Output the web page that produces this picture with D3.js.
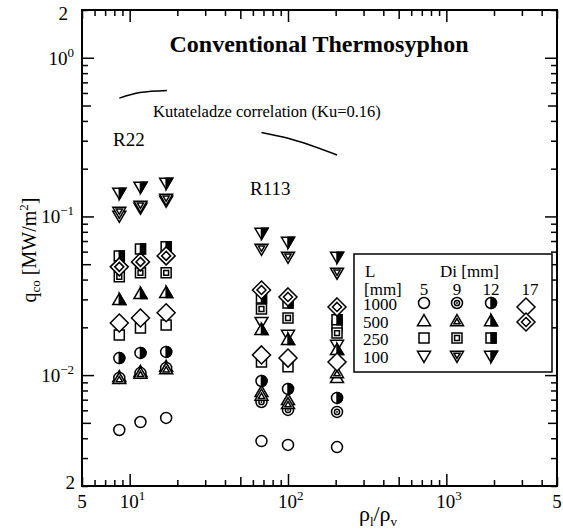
<!DOCTYPE html>
<html>
<head>
<meta charset="utf-8">
<script src="https://cdn.jsdelivr.net/npm/d3@7"></script>
<style>
  body { margin: 0; background: #fff; }
  svg { display: block; }
</style>
</head>
<body>
<script>
// Density ratio rho_l/rho_v for each measured condition: three R22 points, then three R113 points
const densityRatio = [8.6, 11.7, 17.0, 68, 100, 204];

// Critical heat flux q_co [MW/m2], one array per tube diameter Di [mm] and length L [mm]
const d5_L1000  = [0.00451, 0.00506, 0.00537, 0.00384, 0.00363, 0.00352];
const d5_L500   = [0.00973, 0.0105, 0.0113, 0.00783, 0.00697, 0.00959];
const d5_L250   = [0.0179, 0.0198, 0.0207, 0.0121, 0.0113, 0.0204];
const d5_L100   = [0.1008, 0.1132, 0.1253, 0.0216, 0.0179, 0.0155];
const d9_L1000  = [0.00959, 0.0103, 0.0111, 0.00677, 0.00603, 0.00586];
const d9_L500   = [0.00946, 0.0102, 0.0109, 0.00743, 0.00658, 0.0103];
const d9_L250   = [0.0416, 0.0441, 0.0441, 0.0261, 0.0229, 0.0184];
const d9_L100   = [0.1068, 0.1166, 0.1290, 0.0624, 0.0556, 0.0441];
const d12_L1000 = [0.0128, 0.0138, 0.0140, 0.00918, 0.00818, 0.00718];
const d12_L500  = [0.0298, 0.0325, 0.0330, 0.0193, 0.0167, 0.0144];
const d12_L250  = [0.0564, 0.0624, 0.0643, 0.0306, 0.0285, 0.0223];
const d12_L100  = [0.1408, 0.1536, 0.1628, 0.0787, 0.0691, 0.0556];
const d17_a     = [0.0213, 0.0229, 0.0247, 0.0134, 0.0128, 0.0121];
const d17_b     = [0.0481, 0.0517, 0.0564, 0.0344, 0.0311, 0.0269];

// Kutateladze correlation (Ku = 0.16) over each fluid's density-ratio range
const kutaRhoR22  = [8.6, 11.6, 17.2];
const kutaQR22    = [0.557, 0.604, 0.622];
const kutaRhoR113 = [68, 100, 204];
const kutaQR113   = [0.338, 0.311, 0.244];

// Legend labels
const lengthLabels = ["1000", "500", "250", "100"];
const diameterLabels = ["5", "9", "12", "17"];

// Series in drawing order with their marker symbol
const series = [
  { values: d5_L1000,  marker: "circle" },
  { values: d5_L500,   marker: "tri" },
  { values: d5_L250,   marker: "sq" },
  { values: d5_L100,   marker: "tdown" },
  { values: d9_L1000,  marker: "circleIn" },
  { values: d9_L500,   marker: "triIn" },
  { values: d9_L250,   marker: "sqIn" },
  { values: d9_L100,   marker: "tdownIn" },
  { values: d12_L1000, marker: "circleHalf" },
  { values: d12_L500,  marker: "triHalf" },
  { values: d12_L250,  marker: "sqHalf" },
  { values: d12_L100,  marker: "tdownHalf" },
  { values: d17_a,     marker: "diamond" },
  { values: d17_b,     marker: "diamondIn" }
];

const W = 563, H = 530;
const plot = { left: 82, right: 557, top: 10, bottom: 486 };
const FONT = "'Liberation Serif', 'DejaVu Serif', 'Times New Roman', serif";

const x = d3.scaleLog().domain([5, 5000]).range([plot.left, plot.right]);
const y = d3.scaleLog().domain([0.002, 2]).range([plot.bottom, plot.top]);

const svg = d3.select("body").append("svg")
  .attr("width", W).attr("height", H)
  .attr("font-family", FONT);
svg.append("rect").attr("width", W).attr("height", H).attr("fill", "#fff");

// ---- marker symbols ----
const SW = 1.5;
function markerPaths(type) {
  const tri = (s, dir) => {
    // dir 1 = up, -1 = down
    const h = s * 1.7, w = s;
    return [[0, -dir * h * 0.58], [w, dir * h * 0.42], [-w, dir * h * 0.42]];
  };
  const poly = pts => "M" + pts.map(p => p.join(",")).join("L") + "Z";
  const out = [];
  switch (type) {
    case "circle":
      out.push({ circle: 5.5, fill: "#fff" }); break;
    case "circleIn":
      out.push({ circle: 5.5, fill: "#fff" });
      out.push({ circle: 2.6, fill: "#fff" });
      out.push({ circle: 0.9, fill: "#000", sw: 0 }); break;
    case "circleHalf":
      out.push({ circle: 5.5, fill: "#fff" });
      out.push({ d: "M0,-5.5A5.5,5.5 0 0 1 0,5.5Z", fill: "#000" }); break;
    case "tri": case "triIn": case "triHalf":
    case "tdown": case "tdownIn": case "tdownHalf": {
      const dir = type.startsWith("tri") ? 1 : -1;
      const o = tri(6.5, dir);
      out.push({ d: poly(o), fill: "#fff" });
      if (type.endsWith("In")) {
        const i = tri(3.1, dir).map(p => [p[0], p[1] + dir * 0.6]);
        out.push({ d: poly(i), fill: "#fff" });
      }
      if (type.endsWith("Half")) {
        out.push({ d: poly([o[0], o[1], [0, o[1][1]]]), fill: "#000" });
      }
      break;
    }
    case "sq":
      out.push({ d: "M-5,-5H5V5H-5Z", fill: "#fff" }); break;
    case "sqIn":
      out.push({ d: "M-5,-5H5V5H-5Z", fill: "#fff" });
      out.push({ d: "M-2.4,-2.4H2.4V2.4H-2.4Z", fill: "#fff" }); break;
    case "sqHalf":
      out.push({ d: "M-5,-5H5V5H-5Z", fill: "#fff" });
      out.push({ d: "M0,-5H5V5H0Z", fill: "#000" }); break;
    case "diamond":
      out.push({ d: "M0,-9L9,0L0,9L-9,0Z", fill: "#fff" }); break;
    case "diamondIn":
      out.push({ d: "M0,-9L9,0L0,9L-9,0Z", fill: "#fff" });
      out.push({ d: "M0,-4.5L4.5,0L0,4.5L-4.5,0Z", fill: "#fff" }); break;
  }
  return out;
}

function drawMarker(parent, type, cx, cy) {
  const g = parent.append("g").attr("transform", `translate(${cx},${cy})`);
  markerPaths(type).forEach(p => {
    const el = p.circle !== undefined
      ? g.append("circle").attr("r", p.circle)
      : g.append("path").attr("d", p.d);
    el.attr("fill", p.fill)
      .attr("stroke", "#000")
      .attr("stroke-width", p.sw === undefined ? SW : p.sw)
      .attr("stroke-linejoin", "miter");
  });
  return g;
}

// ---- axes with inward ticks on all four sides ----
const mantissa = v => Math.round(v / Math.pow(10, Math.floor(Math.log10(v) + 1e-9)));
const xt = x.ticks(), yt = y.ticks();
const tickSets = [
  { filter: m => m === 1, size: 12 },
  { filter: m => m === 5, size: 9 },
  { filter: m => m !== 1 && m !== 5, size: 6 }
];
const axisG = svg.append("g");
tickSets.forEach(ts => {
  const xv = xt.filter(v => ts.filter(mantissa(v)));
  const yv = yt.filter(v => ts.filter(mantissa(v)));
  axisG.append("g").attr("transform", `translate(0,${plot.bottom})`)
    .call(d3.axisBottom(x).tickValues(xv).tickSize(-ts.size).tickFormat(""));
  axisG.append("g").attr("transform", `translate(0,${plot.top})`)
    .call(d3.axisTop(x).tickValues(xv).tickSize(-ts.size).tickFormat(""));
  axisG.append("g").attr("transform", `translate(${plot.left},0)`)
    .call(d3.axisLeft(y).tickValues(yv).tickSize(-ts.size).tickFormat(""));
  axisG.append("g").attr("transform", `translate(${plot.right},0)`)
    .call(d3.axisRight(y).tickValues(yv).tickSize(-ts.size).tickFormat(""));
});
axisG.selectAll(".domain").remove();
axisG.selectAll(".tick line").attr("stroke", "#000").attr("stroke-width", 1.5);
svg.append("rect")
  .attr("x", plot.left).attr("y", plot.top)
  .attr("width", plot.right - plot.left).attr("height", plot.bottom - plot.top)
  .attr("fill", "none").attr("stroke", "#000").attr("stroke-width", 2);

// ---- tick labels ----
const labelG = svg.append("g").attr("font-size", 19);
function powLabel(parent, base, exp, xPos, yPos, anchor) {
  const t = parent.append("text").attr("x", xPos).attr("y", yPos).attr("text-anchor", anchor);
  t.append("tspan").text(base);
  t.append("tspan").attr("dy", -8).attr("font-size", 13).text(exp);
  return t;
}
// x axis
labelG.append("text").attr("x", x(5)).attr("y", 508).attr("text-anchor", "middle").text("5");
[[10, "1"], [100, "2"], [1000, "3"]].forEach(([v, e]) => {
  powLabel(labelG, "10", e, x(v) - 10, 508, "start");
});
labelG.append("text").attr("x", x(5000)).attr("y", 508).attr("text-anchor", "middle").text("5");
// y axis
labelG.append("text").attr("x", 68).attr("y", y(2) + 10).attr("text-anchor", "end").text("2");
[[1, "0"], [0.1, "\u22121"], [0.01, "\u22122"]].forEach(([v, e]) => {
  powLabel(labelG, "10", e, 74, y(v) + 7, "end");
});
labelG.append("text").attr("x", 75).attr("y", y(0.002) + 3).attr("text-anchor", "end").text("2");

// ---- axis titles ----
const xTitle = svg.append("text").attr("x", 378).attr("y", 521)
  .attr("text-anchor", "middle").attr("font-size", 22);
xTitle.append("tspan").text("\u03c1");
xTitle.append("tspan").attr("dy", 5).attr("font-size", 13).text("l");
xTitle.append("tspan").attr("dy", -5).text("/\u03c1");
xTitle.append("tspan").attr("dy", 5).attr("font-size", 13).text("v");

const yTitle = svg.append("text").attr("transform", "translate(36,250) rotate(-90)")
  .attr("text-anchor", "middle").attr("font-size", 20);
yTitle.append("tspan").text("q");
yTitle.append("tspan").attr("dy", 4).attr("font-size", 13).text("co");
yTitle.append("tspan").attr("dy", -4).text(" [MW/m");
yTitle.append("tspan").attr("dy", -8).attr("font-size", 13).text("2");
yTitle.append("tspan").attr("dy", 8).text("]");

// ---- title and annotations ----
svg.append("text").attr("x", 319).attr("y", 52).attr("text-anchor", "middle")
  .attr("font-size", 24).attr("font-weight", "bold").text("Conventional Thermosyphon");
svg.append("text").attr("x", 153).attr("y", 117).attr("font-size", 16.5)
  .text("Kutateladze correlation (Ku=0.16)");
svg.append("text").attr("x", 113).attr("y", 146).attr("font-size", 19).text("R22");
svg.append("text").attr("x", 250).attr("y", 195).attr("font-size", 19).text("R113");

// ---- correlation curves ----
const line = d3.line().x(d => x(d[0])).y(d => y(d[1])).curve(d3.curveMonotoneX);
[[kutaRhoR22, kutaQR22], [kutaRhoR113, kutaQR113]].forEach(([rx, qy]) => {
  svg.append("path").attr("d", line(rx.map((r, i) => [r, qy[i]])))
    .attr("fill", "none").attr("stroke", "#000").attr("stroke-width", 1.5);
});

// ---- data points ----
const dataG = svg.append("g");
series.forEach(s => {
  s.values.forEach((v, i) => drawMarker(dataG, s.marker, x(densityRatio[i]), y(v)));
});

// ---- legend ----
const leg = svg.append("g");
leg.append("rect").attr("x", 354).attr("y", 254).attr("width", 198).attr("height", 118)
  .attr("fill", "#fff").attr("stroke", "#000").attr("stroke-width", 1.5);
const lt = leg.append("g").attr("font-size", 17);
lt.append("text").attr("x", 365).attr("y", 277).text("L");
lt.append("text").attr("x", 440).attr("y", 277).text("Di [mm]");
lt.append("text").attr("x", 364).attr("y", 295).text("[mm]");
const colX = [424, 457, 491, 530];
const rowY = [303, 321, 338, 356];
diameterLabels.forEach((d, i) => {
  lt.append("text").attr("x", colX[i]).attr("y", 295).attr("text-anchor", "middle").text(d);
});
lengthLabels.forEach((l, i) => {
  lt.append("text").attr("x", 363).attr("y", rowY[i] + 7).text(l);
});
const legendMarkers = [
  ["circle", "circleIn", "circleHalf"],
  ["tri", "triIn", "triHalf"],
  ["sq", "sqIn", "sqHalf"],
  ["tdown", "tdownIn", "tdownHalf"]
];
legendMarkers.forEach((row, r) => {
  row.forEach((m, c) => drawMarker(leg, m, colX[c], rowY[r]));
});
drawMarker(leg, "diamond", 526, 307);
drawMarker(leg, "diamondIn", 526, 322);
</script>
</body>
</html>
